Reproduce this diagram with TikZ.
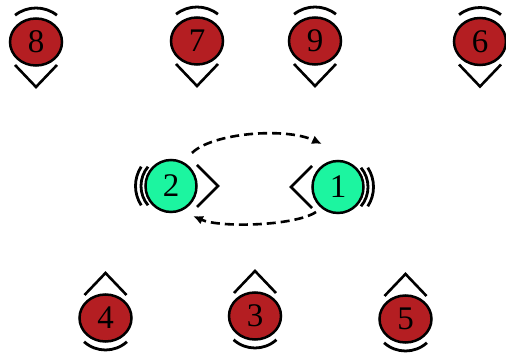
\documentclass[tikz,border=0pt]{standalone}
\usepackage{fontspec}
\setmainfont{Liberation Serif}
\usetikzlibrary{arrows.meta,calc,shapes.geometric}
\definecolor{ballred}{RGB}{180,30,34}
\definecolor{ballgreen}{RGB}{28,245,160}
\tikzset{
  ball/.style={ellipse, draw=black, line width=2.5pt, inner sep=0pt,
    font=\fontsize{33}{33}\selectfont},
  redball/.style={ball, fill=ballred, minimum width=52pt, minimum height=47pt},
  greenball/.style={ball, fill=ballgreen, minimum width=51pt, minimum height=52pt},
  mark line/.style={line width=2.6pt, line cap=butt},
  arc line/.style={line width=2.8pt},
  swap arrow/.style={line width=2.6pt, dash pattern=on 9pt off 5pt,
    -{Latex[length=10pt,width=9pt]}},
  % decorations around the balls
  pics/vee below/.style={code={\draw[mark line] (-21,-23) -- (0,-45) -- (21,-23);}},
  pics/caret above/.style={code={\draw[mark line] (-21,23) -- (0,45) -- (21,23);}},
  pics/arc above/.style={code={\draw[arc line] (52:34) arc[start angle=52, end angle=128, radius=34];}},
  pics/arc below/.style={code={\draw[arc line] (228:32) arc[start angle=228, end angle=312, radius=32];}},
  pics/vee right/.style={code={\draw[mark line] (26,21) -- (47,0) -- (26,-21);}},
  pics/vee left/.style={code={\draw[mark line] (-26,21) -- (-47,0) -- (-26,-21);}},
  pics/arcs left/.style={code={
    \draw[arc line] (140:30) arc[start angle=140, end angle=220, radius=30];
    \draw[arc line] (147:35.5) arc[start angle=147, end angle=213, radius=35.5];}},
  pics/arcs right/.style={code={
    \draw[arc line] (-40:30) arc[start angle=-40, end angle=40, radius=30];
    \draw[arc line] (-33:35.5) arc[start angle=-33, end angle=33, radius=35.5];}},
}
\begin{document}
\begin{tikzpicture}[x=1pt, y=1pt]
  \useasboundingbox (0,0) rectangle (506,356);

  % top row
  \node[redball] (n8) at (36,314) {8};
  \node[redball] (n7) at (197,315) {7};
  \node[redball] (n9) at (315,315) {9};
  \node[redball] (n6) at (480,314.5) {6};
  \foreach \n in {n8,n7,n9,n6} {
    \pic at (\n) {arc above};
    \pic at (\n) {vee below};
  }

  % middle pair
  \node[greenball] (n2) at (171,170) {2};
  \node[greenball] (n1) at (338,169) {1};
  \pic at (n2) {arcs left};
  \pic at (n2) {vee right};
  \pic at (n1) {arcs right};
  \pic at (n1) {vee left};

  % bottom row
  \node[redball] (n4) at (105.5,38) {4};
  \node[redball] (n3) at (255,40) {3};
  \node[redball] (n5) at (405.5,37) {5};
  \foreach \n in {n4,n3,n5} {
    \pic at (\n) {caret above};
    \pic at (\n) {arc below};
  }

  % exchange between 2 and 1
  \coordinate (t2) at ($(n2.center)+(21,33)$);
  \coordinate (t1) at ($(n1.center)+(-16,43)$);
  \coordinate (b1) at ($(n1.center)+(-22,-25)$);
  \coordinate (b2) at ($(n2.center)+(22,-30)$);
  \draw[swap arrow] (t2) .. controls (212,223) and (285,229) .. (t1);
  \draw[swap arrow] (b1) .. controls (295,130) and (220,128) .. (b2);
\end{tikzpicture}
\end{document}
